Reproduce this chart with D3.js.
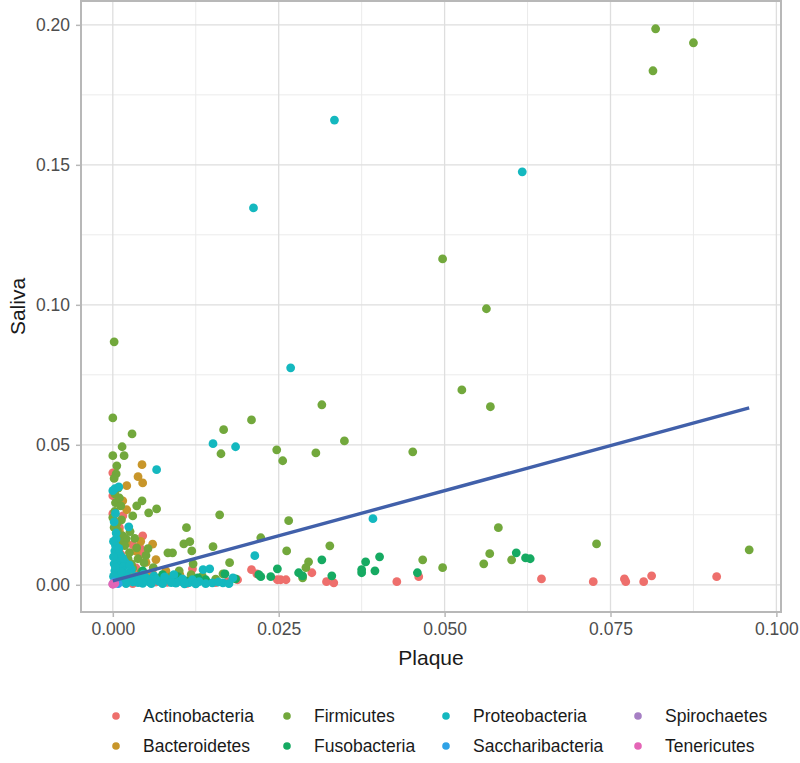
<!DOCTYPE html>
<html><head><meta charset="utf-8">
<script src="https://cdn.jsdelivr.net/npm/d3@7"></script>
<style>body{margin:0;background:#fff}svg{display:block;font-family:"Liberation Sans",Arial,sans-serif}</style>
</head><body><svg id="c" width="800" height="763"></svg>
<script>
const phyla = ["Actinobacteria","Bacteroidetes","Firmicutes","Fusobacteria","Proteobacteria","Saccharibacteria","Spirochaetes","Tenericutes"];
const colors = ["#EE6F6C","#C8962A","#72A83C","#16AA62","#14B8BF","#2FA2E6","#A67FC4","#E465B6"];
const xTicks = [0, 0.025, 0.05, 0.075, 0.1];
const yTicks = [0, 0.05, 0.10, 0.15, 0.20];
const xTickLabels = ["0.000","0.025","0.050","0.075","0.100"];
const yTickLabels = ["0.00","0.05","0.10","0.15","0.20"];
const xTitle = "Plaque", yTitle = "Saliva";
// linear fit endpoints [plaque, saliva]
const fitLine = [[0, 0.0014], [0.0959, 0.0632]];

// [plaque, saliva]
const actinobacteria = [[0.0724,0.0011],[0.0771,0.0021],[0.0773,0.0011],[0.0800,0.0011],[0.0812,0.0032],[0.0910,0.0029],[0.0646,0.0021],[0.0428,0.0011],[0.0461,0.0029],[0.0322,0.0011],[0.0333,0.0007],[0.0300,0.0043],[0.0253,0.0018],[0.0261,0.0018],[0.0248,0.0018],[0.0209,0.0054],[0.0217,0.0039],[0.0188,0.0018],[0.0173,0.0011],[0.0120,0.0057],[0.0120,0.0014],[0,0.0400],[0,0.0318],[0,0.0254],[0.0015,0.0246],[0.0045,0.0175],[0.0030,0.0143],[0.0041,0.0132],[0.0044,0.0110],[0.0010,0.0204],[0.0008,0.0225],[0.0020,0.0075],[0.0035,0.0060],[0.0060,0.0040],[0.0075,0.0020],[0.0090,0.0015],[0.0105,0.0010],[0.0140,0.0012],[0.0155,0.0008],[0.0005,0.0030],[0.0025,0.0015],[0.0065,0.0010],[0.0012,0.0110],[0.0055,0.0012],[0.0082,0.0009],[0.0112,0.0005],[0.0030,0.0004]];
const bacteroidetes = [[0.0044,0.0429],[0.0038,0.0386],[0.0045,0.0364],[0.0021,0.0354],[0.0021,0.0268],[0.0020,0.0150],[0.0035,0.0120],[0.0050,0.0080],[0.0065,0.0090],[0.0080,0.0050],[0.0028,0.0045],[0.0010,0.0190],[0.0101,0.0036],[0.0126,0.0018],[0.0033,0.0020],[0.0015,0.0300],[0.0060,0.0145],[0.0042,0.0155],[0.0009,0.0060],[0.0052,0.0030],[0.0070,0.0015]];
const firmicutes = [[0.0818,0.1986],[0.0875,0.1936],[0.0814,0.1836],[0.0497,0.1164],[0.0563,0.0986],[0.0526,0.0696],[0.0569,0.0636],[0.0002,0.0868],[0.0315,0.0643],[0.0209,0.0589],[0.0167,0.0554],[0.0349,0.0514],[0.0247,0.0482],[0.0256,0.0443],[0.0306,0.0471],[0.0163,0.0468],[0.0452,0.0475],[0,0.0596],[0.0029,0.0539],[0.0581,0.0204],[0.0729,0.0146],[0.0959,0.0125],[0.0265,0.0229],[0.0262,0.0121],[0.0327,0.0139],[0.0295,0.0082],[0.0291,0.0061],[0.0286,0.0025],[0.0467,0.0089],[0.0497,0.0061],[0.0559,0.0075],[0.0568,0.0111],[0.0601,0.0089],[0.0161,0.0250],[0.0151,0.0136],[0.0223,0.0168],[0.0176,0.0079],[0.0166,0.0039],[0.0014,0.0493],[0,0.0461],[0.0017,0.0461],[0.0006,0.0425],[0.0005,0.0396],[0.0004,0.0293],[0.0044,0.0300],[0.0036,0.0282],[0.0054,0.0257],[0.0066,0.0271],[0,0.0240],[0.0030,0.0246],[0.0006,0.0218],[0.0111,0.0204],[0.0107,0.0146],[0.0116,0.0154],[0.0015,0.0175],[0.0020,0.0164],[0.0036,0.0132],[0.0053,0.0129],[0.0083,0.0114],[0.0090,0.0114],[0.0119,0.0121],[0.0023,0.0093],[0.0038,0.0093],[0.0047,0.0079],[0.0030,0.0060],[0.0008,0.0125],[0.0061,0.0061],[0.0009,0.0035],[0.0071,0.0025],[0.0121,0.0075],[0.0118,0.0036],[0.0043,0.0046],[0.0003,0.0325],[0.0008,0.0345],[0.0012,0.0282],[0.0007,0.0193],[0.0011,0.0152],[0.0002,0.0380],[0.0010,0.0310],[0.0003,0.0262],[0.0013,0.0232],[0.0002,0.0205],[0.0018,0.0140],[0.0025,0.0115],[0.0014,0.0080],[0.0028,0.0075],[0.0050,0.0105],[0.0100,0.0050],[0.0135,0.0030],[0.0155,0.0020],[0.0088,0.0030],[0.0026,0.0190],[0.0033,0.0166]];
const fusobacteria = [[0.0315,0.0089],[0.0280,0.0043],[0.0330,0.0032],[0.0381,0.0082],[0.0402,0.0100],[0.0375,0.0054],[0.0375,0.0043],[0.0395,0.0050],[0.0459,0.0043],[0.0608,0.0114],[0.0622,0.0096],[0.0629,0.0093],[0.0248,0.0057],[0.0220,0.0036],[0.0223,0.0029],[0.0238,0.0029],[0.0286,0.0032],[0.0169,0.0039],[0.0098,0.0029],[0.0128,0.0025],[0.0015,0.0075],[0.0045,0.0050],[0.0075,0.0036],[0.0140,0.0018],[0.0185,0.0021],[0.0005,0.0125],[0.0110,0.0014],[0.0060,0.0022]];
const proteobacteria = [[0.0334,0.1660],[0.0212,0.1346],[0.0617,0.1475],[0.0268,0.0775],[0.0151,0.0504],[0.0185,0.0493],[0.0066,0.0411],[0.0392,0.0236],[0.0214,0.0104],[0.0181,0.0025],[0.0136,0.0054],[0.0146,0.0057],[0.0166,0.0007],[0.0003,0.0343],[0.0009,0.0350],[0,0.0336],[0.0024,0.0207],[0.0005,0.0164],[0.0003,0.0121],[0.0006,0.0089],[0.0002,0.0075],[0.0010,0.0068],[0.0015,0.0060],[0.0003,0.0050],[0.0008,0.0043],[0.0020,0.0040],[0.0001,0.0030],[0.0012,0.0025],[0.0025,0.0020],[0.0040,0.0015],[0.0055,0.0010],[0.0070,0.0012],[0.0085,0.0018],[0.0100,0.0012],[0.0115,0.0008],[0.0130,0.0011],[0.0150,0.0007],[0.0035,0.0030],[0.0050,0.0025],[0.0062,0.0032],[0.0078,0.0028],[0.0092,0.0036],[0.0105,0.0021],[0.0120,0.0018],[0.0011,0.0107],[0.0004,0.0140],[0.0018,0.0082],[0.0028,0.0055],[0.0016,0.0018],[0.0008,0.0011],[0.0020,0.0004],[0.0045,0.0005],[0.0075,0.0004],[0.0095,0.0006],[0.0125,0.0003],[0.0065,0.0020],[0.0038,0.0008],[0.0015,0.0095],[0.0025,0.0071],[0.0005,0.0185],[0.0002,0.0225],[0.0004,0.0255],[0.0001,0.0155],[0.0009,0.0130],[0.0013,0.0045],[0.0006,0.0020],[0.0030,0.0010],[0.0058,0.0004],[0.0088,0.0008],[0.0108,0.0003],[0.0140,0.0004],[0.0159,0.0010],[0.0175,0.0004],[0.0022,0.0028],[0.0046,0.0038],[0.0001,0.0100],[0.0004,0.0062],[0.0019,0.0013]];
const saccharibacteria = [[0.0002,0.0010],[0.0008,0.0004]];
const spirochaetes = [[0,0.0003]];
const tenericutes = [[0,0.0002],[0.0003,0.0005]];
const seriesData = [actinobacteria,bacteroidetes,firmicutes,fusobacteria,proteobacteria,saccharibacteria,spirochaetes,tenericutes];

const svg = d3.select("#c");
const P = {left:81, right:781, top:1, bottom:612};
const all = seriesData.flat().concat(fitLine);
const xe = d3.extent(all, d=>d[0]), ye = d3.extent(all, d=>d[1]);
const xp = (xe[1]-xe[0])*0.05, yp = (ye[1]-ye[0])*0.05;
const x = d3.scaleLinear().domain([xe[0]-xp, xe[1]+xp]).range([P.left, P.right]);
const y = d3.scaleLinear().domain([ye[0]-yp, ye[1]+yp]).range([P.bottom, P.top]);

const g = svg.append("g");
const xMinor = xTicks.slice(0,-1).map((v,i)=>(v+xTicks[i+1])/2);
const yMinor = yTicks.slice(0,-1).map((v,i)=>(v+yTicks[i+1])/2);
g.selectAll(".xm").data(xMinor).join("line").attr("x1",d=>x(d)).attr("x2",d=>x(d)).attr("y1",P.top).attr("y2",P.bottom).attr("stroke","#ebebeb").attr("stroke-width",1);
g.selectAll(".ym").data(yMinor).join("line").attr("y1",d=>y(d)).attr("y2",d=>y(d)).attr("x1",P.left).attr("x2",P.right).attr("stroke","#ebebeb").attr("stroke-width",1);
g.selectAll(".xg").data(xTicks).join("line").attr("x1",d=>x(d)).attr("x2",d=>x(d)).attr("y1",P.top).attr("y2",P.bottom).attr("stroke","#dedede").attr("stroke-width",1.3);
g.selectAll(".yg").data(yTicks).join("line").attr("y1",d=>y(d)).attr("y2",d=>y(d)).attr("x1",P.left).attr("x2",P.right).attr("stroke","#dedede").attr("stroke-width",1.3);

seriesData.forEach((arr,i)=>{
  svg.append("g").selectAll("circle").data(arr).join("circle")
    .attr("cx",d=>x(d[0])).attr("cy",d=>y(d[1])).attr("r",4.4).attr("fill",colors[i]);
});
svg.append("path").datum(fitLine).attr("d", d3.line().x(d=>x(d[0])).y(d=>y(d[1])))
  .attr("stroke","#4160AA").attr("stroke-width",3.4).attr("fill","none");

svg.append("rect").attr("x",P.left).attr("y",P.top).attr("width",P.right-P.left).attr("height",P.bottom-P.top)
  .attr("fill","none").attr("stroke","#b8b8b8").attr("stroke-width",2);

const xAxis = d3.axisBottom(x).tickValues(xTicks).tickFormat((d,i)=>xTickLabels[i]).tickSize(5).tickPadding(6);
const yAxis = d3.axisLeft(y).tickValues(yTicks).tickFormat((d,i)=>yTickLabels[i]).tickSize(5).tickPadding(6);
const ax = svg.append("g").attr("transform",`translate(0,${P.bottom})`).call(xAxis);
const ay = svg.append("g").attr("transform",`translate(${P.left},0)`).call(yAxis);
[ax,ay].forEach(a=>{
  a.select(".domain").remove();
  a.selectAll(".tick line").attr("stroke","#b8b8b8").attr("stroke-width",1.5);
  a.selectAll(".tick text").attr("fill","#4d4d4d").style("font-size","17.5px").style("font-family","'Liberation Sans',Arial,sans-serif");
});

svg.append("text").attr("x",(P.left+P.right)/2).attr("y",665).attr("text-anchor","middle")
  .style("font-size","21px").attr("fill","#1a1a1a").text(xTitle);
svg.append("text").attr("transform",`translate(25,${(P.top+P.bottom)/2}) rotate(-90)`).attr("text-anchor","middle")
  .style("font-size","21px").attr("fill","#1a1a1a").text(yTitle);

const colX = [116, 287, 446, 638];
const rowY = [716, 746];
const lg = svg.append("g");
phyla.forEach((p,i)=>{
  const c = Math.floor(i/2), r = i%2;
  lg.append("circle").attr("cx",colX[c]).attr("cy",rowY[r]).attr("r",3.8).attr("fill",colors[i]);
  lg.append("text").attr("x",colX[c]+27).attr("y",rowY[r]).attr("dy","0.35em")
    .style("font-size","17.5px").attr("fill","#1a1a1a").text(p);
});
</script></body></html>
